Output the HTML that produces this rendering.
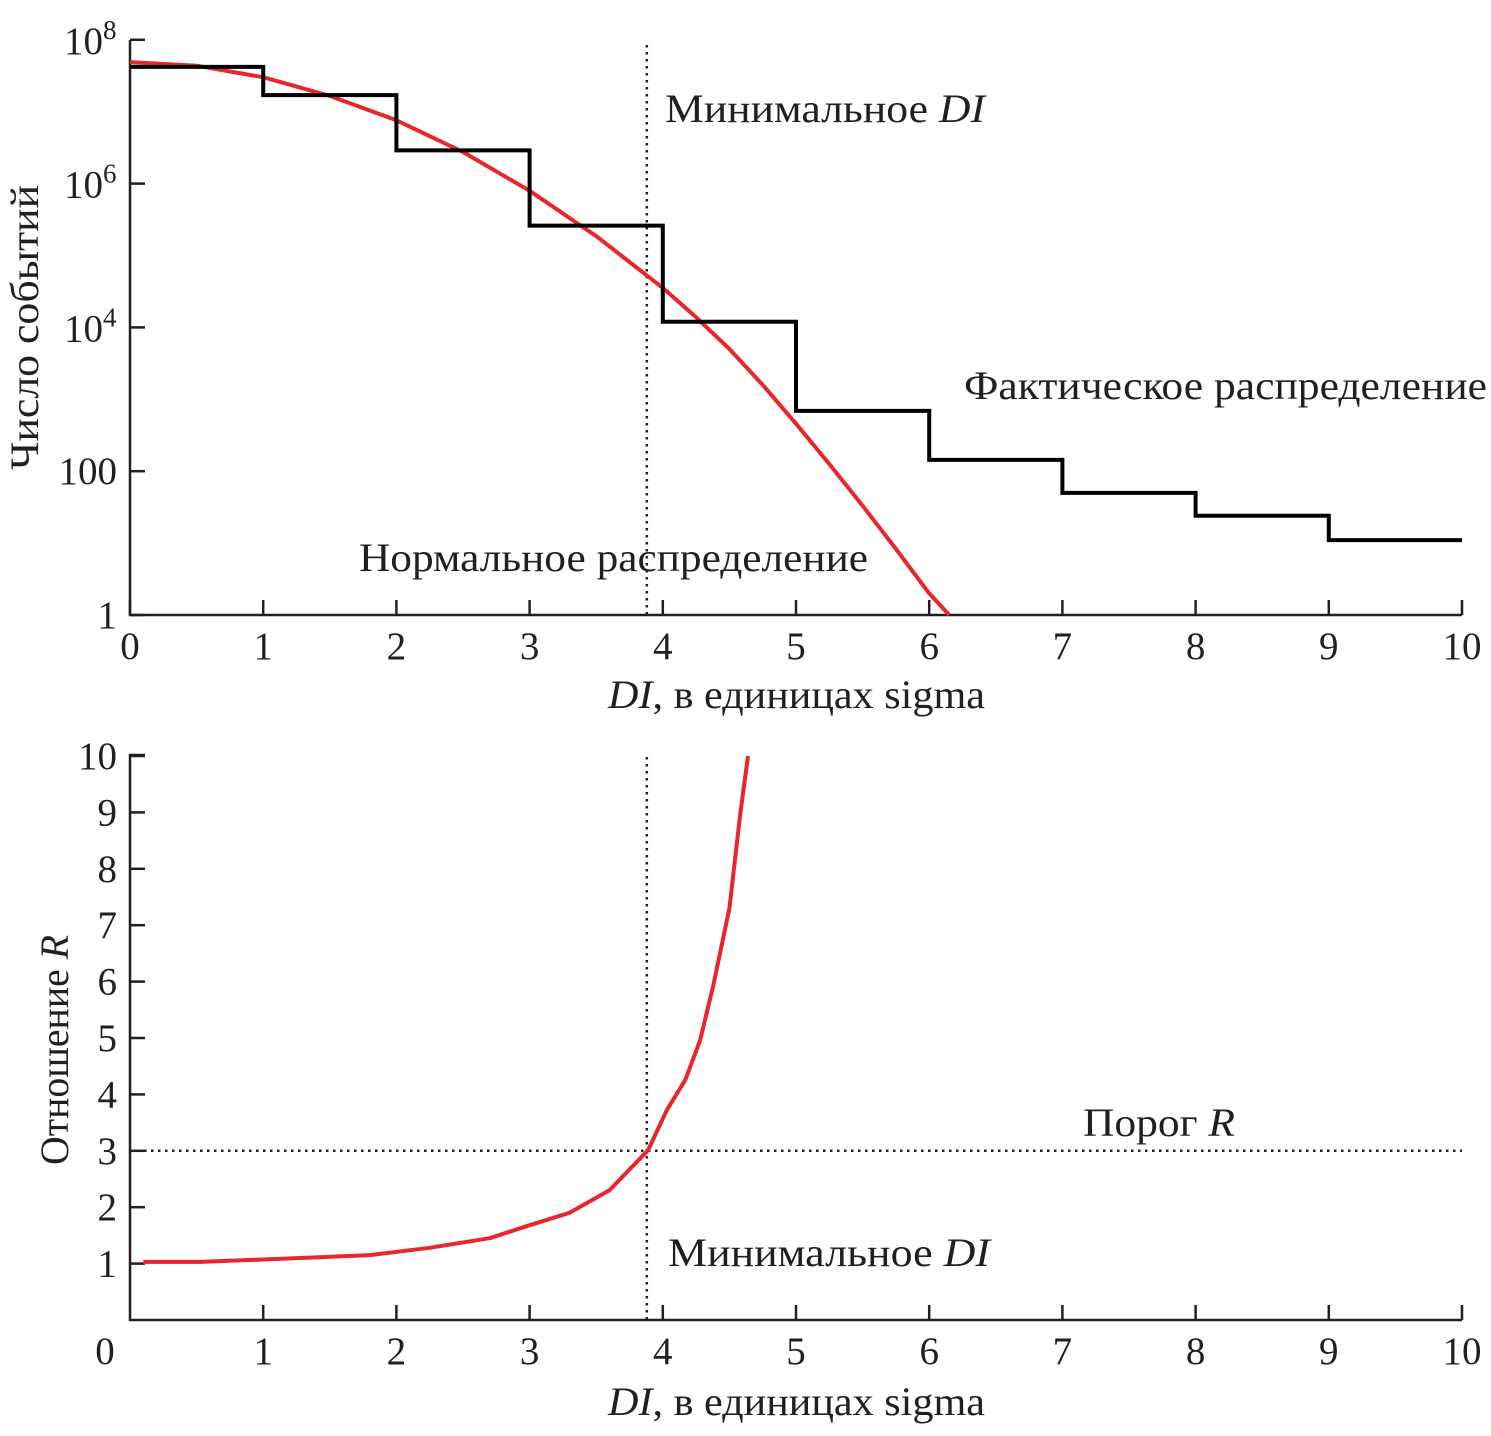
<!DOCTYPE html>
<html><head><meta charset="utf-8"><style>
body{margin:0;background:#fff}
svg text{font-family:"Liberation Serif",serif;fill:#231f20}
</style></head><body>
<svg id="c" width="1491" height="1431" viewBox="0 0 1491 1431" xmlns="http://www.w3.org/2000/svg"></svg>
<script>
// Top chart data
const histEdges=[0,1,2,3,4,5,6,7,8,9,10];
const histCounts=[4.2e7,1.7e7,2.9e6,2.6e5,1.2e4,690,144,50,24,11];
const normX=[0,0.5,1,1.5,2,2.5,3,3.5,4,4.25,4.5,4.75,5,5.25,5.5,5.75,6,6.15];
const normLog=[7.69,7.64,7.48,7.22,6.88,6.44,5.9,5.27,4.55,4.14,3.7,3.2,2.66,2.1,1.52,0.92,0.3,0];
const topYTicks=[1,100,1e4,1e6,1e8];
const xTicks=[0,1,2,3,4,5,6,7,8,9,10];
const minDI=3.88;
// Bottom chart data
const ratioX=[0.1,0.53,1.28,1.8,2.25,2.7,3.0,3.3,3.6,3.89,4.03,4.17,4.28,4.38,4.5,4.58,4.64];
const ratioY=[1.03,1.03,1.1,1.15,1.28,1.45,1.68,1.9,2.3,3.01,3.72,4.26,4.96,5.94,7.3,8.95,10];
const botYTicks=[1,2,3,4,5,6,7,8,9,10];
const thresholdR=3;

const NS="http://www.w3.org/2000/svg";
const svg=document.getElementById('c');
function el(t,a,txt){const e=document.createElementNS(NS,t);for(const k in a)e.setAttribute(k,a[k]);if(txt!==undefined)e.innerHTML=txt;svg.appendChild(e);return e;}
const X=v=>130+v*133.2;
const YT=v=>615-Math.log10(v)*71.9;
const YL=l=>615-l*71.9;
const YB=v=>1320-v*56.4;
const FS=39, TS=40;

let e;
e=el('path',{d:`M130 40V615H1462`,fill:'none',stroke:'#231f20','stroke-width':2.5});

xTicks.forEach(t=>{e=el('line',{x1:X(t),x2:X(t),y1:615,y2:600,stroke:'#231f20','stroke-width':2.5});

e=el('text',{x:X(t),y:659,'font-size':FS,'text-anchor':'middle'},t);
});
topYTicks.forEach(t=>{const y=YT(t);e=el('line',{x1:130,x2:145,y1:y,y2:y,stroke:'#231f20','stroke-width':2.5});

const ex=Math.round(Math.log10(t));
const lab=t>=1e4?`10<tspan dy="-15" font-size="27">${ex}</tspan>`:String(t);
e=el('text',{x:t>=1e4?64:117,y:y+(t>=1e4?14:13),'font-size':FS,'text-anchor':t>=1e4?'start':'end'},lab);
});
e=el('text',{x:608,y:708,'font-size':TS,textLength:377,lengthAdjust:'spacingAndGlyphs'},'<tspan font-style="italic">DI</tspan>, в единицах sigma');

e=el('text',{x:0,y:0,'font-size':TS,textLength:285,lengthAdjust:'spacingAndGlyphs',transform:'translate(38,470) rotate(-90)'},'Число событий');

e=el('line',{x1:X(minDI),x2:X(minDI),y1:45,y2:615,stroke:'#231f20','stroke-width':2.5,'stroke-dasharray':'2.5 4.5'});

let d=normX.map((x,i)=>(i?'L':'M')+X(x).toFixed(1)+' '+YL(normLog[i]).toFixed(1)).join('');
e=el('path',{d,fill:'none',stroke:'#e8262b','stroke-width':4,'stroke-linejoin':'round'});

d='';histCounts.forEach((c,i)=>{const y=YT(c);d+=(i?'L':'M')+X(histEdges[i])+' '+y+'L'+X(histEdges[i+1])+' '+y;});
e=el('path',{d,fill:'none',stroke:'#000','stroke-width':4});

e=el('text',{x:665,y:122,'font-size':TS,textLength:320,lengthAdjust:'spacingAndGlyphs'},'Минимальное <tspan font-style="italic">DI</tspan>');

e=el('text',{x:964,y:399,'font-size':TS,textLength:523,lengthAdjust:'spacingAndGlyphs'},'Фактическое распределение');

e=el('text',{x:359,y:571,'font-size':TS,textLength:509,lengthAdjust:'spacingAndGlyphs'},'Нормальное распределение');


e=el('path',{d:`M145 755H130V1320H1462`,fill:'none',stroke:'#231f20','stroke-width':2.5});

xTicks.forEach(t=>{if(t>0){e=el('line',{x1:X(t),x2:X(t),y1:1320,y2:1305,stroke:'#231f20','stroke-width':2.5});
}
e=el('text',{x:t===0?105:X(t),y:1364,'font-size':FS,'text-anchor':'middle'},t);
});
botYTicks.forEach(t=>{const y=YB(t);e=el('line',{x1:130,x2:145,y1:y,y2:y,stroke:'#231f20','stroke-width':2.5});

e=el('text',{x:117,y:y+13,'font-size':FS,'text-anchor':'end'},t);
});
e=el('text',{x:608,y:1415,'font-size':TS,textLength:377,lengthAdjust:'spacingAndGlyphs'},'<tspan font-style="italic">DI</tspan>, в единицах sigma');

e=el('text',{x:0,y:0,'font-size':TS,textLength:230,lengthAdjust:'spacingAndGlyphs',transform:'translate(68,1165) rotate(-90)'},'Отношение <tspan font-style="italic">R</tspan>');

e=el('line',{x1:X(minDI),x2:X(minDI),y1:757,y2:1320,stroke:'#231f20','stroke-width':2.5,'stroke-dasharray':'2.5 4.5'});

e=el('line',{x1:130,x2:1462,y1:YB(thresholdR),y2:YB(thresholdR),stroke:'#231f20','stroke-width':2.5,'stroke-dasharray':'2.5 4.5'});

d=ratioX.map((x,i)=>(i?'L':'M')+X(x).toFixed(1)+' '+YB(ratioY[i]).toFixed(1)).join('');
e=el('path',{d,fill:'none',stroke:'#e8262b','stroke-width':4,'stroke-linejoin':'round'});

e=el('text',{x:1083,y:1136,'font-size':TS,textLength:152,lengthAdjust:'spacingAndGlyphs'},'Порог <tspan font-style="italic">R</tspan>');

e=el('text',{x:668,y:1266,'font-size':TS,textLength:322,lengthAdjust:'spacingAndGlyphs'},'Минимальное <tspan font-style="italic">DI</tspan>');

</script>
</body></html>
